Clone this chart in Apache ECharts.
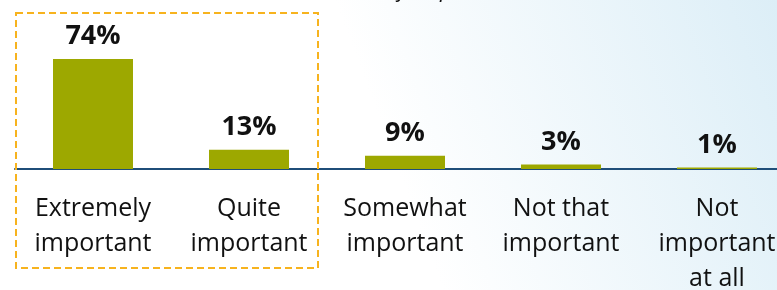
<!DOCTYPE html>
<html>
<head>
<meta charset="utf-8">
<script src="https://cdn.jsdelivr.net/npm/echarts@6/dist/echarts.min.js"></script>
<style>
  html, body { margin: 0; padding: 0; }
  #chart { width: 777px; height: 290px; }
</style>
</head>
<body>
<div id="chart"></div>
<script>
// categories and shares (%)
var categories = ['Extremely\nimportant', 'Quite\nimportant', 'Somewhat\nimportant', 'Not that\nimportant', 'Not\nimportant\nat all'];
var shares = [74, 13, 9, 3, 1];
var subtitle = '(Share of respondents)';

var chart = echarts.init(document.getElementById('chart'));

chart.setOption({
  backgroundColor: new echarts.graphic.LinearGradient(0, 1, 1, 0, [
    {offset: 0, color: '#ffffff'},
    {offset: 0.5, color: '#ffffff'},
    {offset: 1, color: '#dcEEF7'}
  ]),
  animation: false,
  grid: {left: 15, right: -18, top: 20.4, bottom: 121, containLabel: false, outerBoundsMode: 'none'},
  xAxis: {
    type: 'category',
    data: categories,
    axisLine: {lineStyle: {color: '#1F4E79', width: 2}},
    axisTick: {show: false},
    axisLabel: {
      interval: 0,
      margin: 22,
      color: '#111',
      fontFamily: 'Open Sans',
      fontSize: 25,
      lineHeight: 35
    }
  },
  yAxis: {
    type: 'value',
    min: 0,
    max: 100,
    show: false,
    splitLine: {show: false}
  },
  series: [{
    type: 'bar',
    data: shares,
    barWidth: 80,
    itemStyle: {color: '#9DA800'},
    label: {
      show: true,
      position: 'top',
      distance: 9,
      formatter: function (p) {
        return p.value + '%';
      },
      color: '#111',
      fontFamily: 'Open Sans',
      fontWeight: 'bold',
      fontSize: 27
    }
  }],
  graphic: [{
    type: 'rect',
    shape: {x: 16, y: 13, width: 302, height: 255},
    style: {fill: null, stroke: '#F7B31E', lineWidth: 2, lineDash: [7, 4]},
    z: 100
  }, {
    type: 'text',
    left: 318,
    top: -20,
    style: {
      text: subtitle,
      fill: '#111',
      font: 'italic 22px "Open Sans"'
    }
  }]
});
</script>
</body>
</html>
